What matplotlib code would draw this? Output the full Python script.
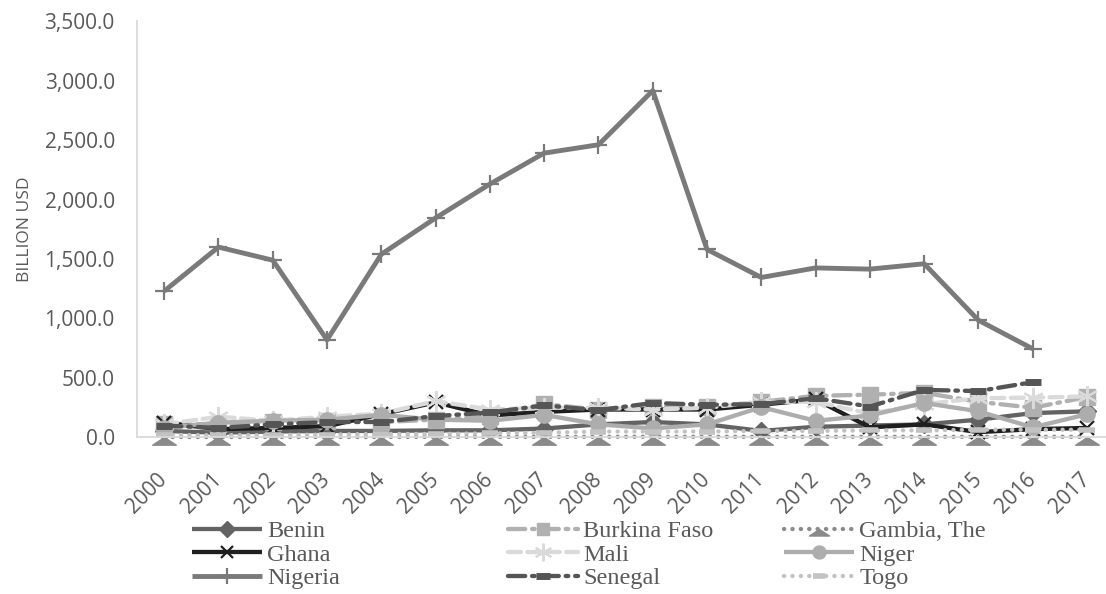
import numpy as np
import matplotlib
matplotlib.use("Agg")
import matplotlib.pyplot as plt
from matplotlib.path import Path

# ---- data (billion USD) ----
years = [str(y) for y in range(2000, 2018)]
nan = np.nan

benin   = [55, 40, 50, 55, 55, 60, 60, 75, 110, 130, 110, 55, 90, 100, 110, 150, 205, 220]
burkina = [115, 110, 130, 140, 130, 150, 180, 280, 235, 260, 255, 300, 350, 360, 375, 300, 250, 340]
gambia  = [4, 4, 4, 4, 4, 5, 5, 5, 6, 6, 6, 6, 6, 6, 6, 6, 6, 6]
ghana   = [125, 70, 80, 95, 195, 295, 185, 215, 235, 235, 235, 275, 320, 85, 110, 45, 70, 80]
mali    = [110, 175, 140, 175, 200, 305, 235, 250, 250, 235, 250, 300, 300, 200, 280, 330, 335, 345]
niger   = [80, 125, 140, 150, 190, 150, 140, 190, 110, 76, 110, 255, 140, 185, 290, 220, 85, 195]
nigeria = [1230, 1600, 1490, 820, 1540, 1845, 2130, 2390, 2460, 2915, 1580, 1345, 1425, 1415, 1460, 985, 745, nan]
senegal = [100, 80, 110, 130, 130, 180, 210, 270, 230, 290, 275, 280, 330, 260, 400, 390, 465, nan]
togo    = [20, 20, 20, 25, 30, 30, 35, 40, 50, 50, 50, 55, 55, 60, 60, 65, 65, 65]

# triangle marker hanging below its data point
tri_down = Path([(0, 0), (-1, -0.65), (1, -0.65), (0, 0)],
                [Path.MOVETO, Path.LINETO, Path.LINETO, Path.CLOSEPOLY])
asterisk = (6, 2, 0)

series = [
    dict(label="Benin", y=benin, color="#636363", ls="-", marker="D", ms=9, mew=1),
    dict(label="Burkina Faso", y=burkina, color="#b0b0b0", ls=(0, (4, 1.6, 0.6, 1.6)),
         marker="s", ms=11, mew=1),
    dict(label="Gambia, The", y=gambia, color="#8a8a8a", ls=(0, (0.05, 1.9)),
         marker=tri_down, ms=17, mew=1),
    dict(label="Ghana", y=ghana, color="#1f1f1f", ls="-", marker="x", ms=10, mew=1.6),
    dict(label="Mali", y=mali, color="#dadada", ls=(0, (3, 1.5)), marker=asterisk,
         ms=15, mew=1.5),
    dict(label="Niger", y=niger, color="#adadad", ls="-", marker="o", ms=11, mew=1),
    dict(label="Nigeria", y=nigeria, color="#7a7a7a", ls="-", marker="+", ms=13, mew=1.6),
    dict(label="Senegal", y=senegal, color="#555555", ls=(0, (4, 1.6, 0.6, 1.6)),
         marker="_", ms=12, mew=5),
    dict(label="Togo", y=togo, color="#c2c2c2", ls=(0, (0.05, 1.9)),
         marker="_", ms=11, mew=4),
]

fig = plt.figure(figsize=(11.06, 5.94), dpi=100)
ax = fig.add_axes([0.1239, 0.2635, 0.8835, 0.7011])

x = np.arange(len(years))
handles = {}
for s in series:
    lw = 3.5 if s["label"] == "Nigeria" else 3.1
    (ln,) = ax.plot(x, s["y"], color=s["color"], lw=lw, linestyle=s["ls"],
                    marker=s["marker"], markersize=s["ms"],
                    markerfacecolor=s["color"], markeredgecolor=s["color"],
                    markeredgewidth=s["mew"], dash_capstyle="round",
                    solid_capstyle="butt", solid_joinstyle="round",
                    clip_on=False, label=s["label"])
    handles[s["label"]] = ln

ax.set_xlim(-0.5, len(years) - 0.5)
ax.set_ylim(0, 3500)
yt = np.arange(0, 3501, 500)
ax.set_yticks(yt)
ax.set_yticklabels([f"{v:,.1f}" for v in yt])
ax.set_xticks(x)
ax.set_xticklabels(years, rotation=45, ha="right", va="center",
                   rotation_mode="anchor")

for lab in ax.get_yticklabels() + ax.get_xticklabels():
    lab.set_fontfamily("Open Sans")
    lab.set_fontsize(15)
    lab.set_color("#595959")
ax.tick_params(axis="y", length=0, pad=16)
ax.tick_params(axis="x", length=0, pad=28)

for side in ("top", "right"):
    ax.spines[side].set_visible(False)
for side in ("left", "bottom"):
    ax.spines[side].set_color("#d9d9d9")
    ax.spines[side].set_linewidth(1.3)
ax.set_zorder(1)

ax.set_ylabel("BILLION USD", fontfamily="Open Sans", fontsize=12.5,
              color="#595959", labelpad=8)

# legend: three columns placed independently
columns = [["Benin", "Ghana", "Nigeria"],
           ["Burkina Faso", "Mali", "Senegal"],
           ["Gambia, The", "Niger", "Togo"]]
col_x = [192, 508, 784]
for names, cx in zip(columns, col_x):
    leg = fig.legend([handles[n] for n in names], names,
                     loc="upper left", bbox_to_anchor=(cx / 1106, 1 - 520 / 594),
                     frameon=False, prop=dict(family="Liberation Serif", size=17.5),
                     handlelength=2.9, handletextpad=0.2, labelspacing=0.07,
                     borderpad=0, borderaxespad=0, numpoints=1, markerscale=0.85)
    for t in leg.get_texts():
        t.set_color("#595959")

fig.savefig("out.png", dpi=100)
